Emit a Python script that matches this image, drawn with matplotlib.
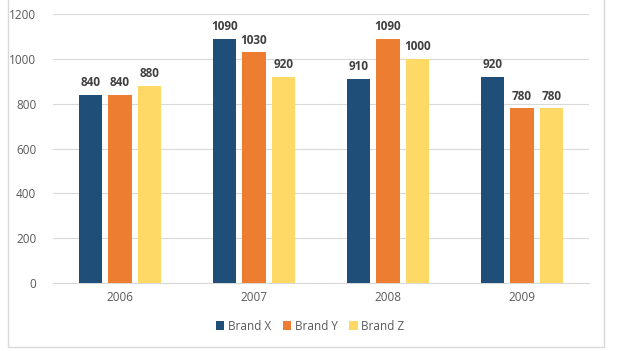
import numpy as np
import matplotlib.pyplot as plt
from matplotlib.patches import Rectangle

years = ["2006", "2007", "2008", "2009"]
brand_x = [840, 1090, 910, 920]
brand_y = [840, 1030, 1090, 780]
brand_z = [880, 920, 1000, 780]
series = [("Brand X", brand_x, "#1F4E79"),
          ("Brand Y", brand_y, "#ED7D31"),
          ("Brand Z", brand_z, "#FFD966")]

plt.rcParams['font.family'] = ['Open Sans', 'DejaVu Sans']

fig = plt.figure(figsize=(6.26, 3.51), dpi=100)
ax = fig.add_axes([53 / 626, 1 - 283 / 351, 536 / 626, 269 / 351])

# chart border
fig.patches.append(Rectangle((8 / 626, 1 - 347 / 351), 596 / 626, 347 / 351 + 0.01,
                             transform=fig.transFigure, fill=False,
                             edgecolor="#D9D9D9", linewidth=1))

x = np.arange(len(years))
width = 0.175
step = 0.22
for i, (name, vals, color) in enumerate(series):
    pos = x + (i - 1) * step
    bars = ax.bar(pos, vals, width, color=color, label=name, zorder=3)
    for b, v in zip(bars, vals):
        ax.text(b.get_x() + b.get_width() / 2, v + 25, str(v), ha="center", va="bottom",
                fontsize=8.5, fontweight="bold", color="#404040")

ax.set_xlim(-0.5, len(years) - 0.5)
ax.set_ylim(0, 1200)
ax.set_yticks(range(0, 1201, 200))
ax.set_xticks(x)
ax.set_xticklabels(years)
ax.tick_params(axis="both", length=0, labelsize=8.5, colors="#595959")
ax.tick_params(axis="y", pad=12)
ax.tick_params(axis="x", pad=6)
ax.yaxis.grid(True, color="#D9D9D9", linewidth=0.8, zorder=0)
for s in ["top", "right", "left"]:
    ax.spines[s].set_visible(False)
ax.spines["bottom"].set_color("#D9D9D9")

ax.legend(loc="center", bbox_to_anchor=(0.48, -0.16), ncol=3, frameon=False,
          fontsize=8.5, handlelength=0.7, handleheight=0.7, handletextpad=0.3,
          columnspacing=1.0, labelcolor="#595959")

fig.savefig("out.png", dpi=100)
